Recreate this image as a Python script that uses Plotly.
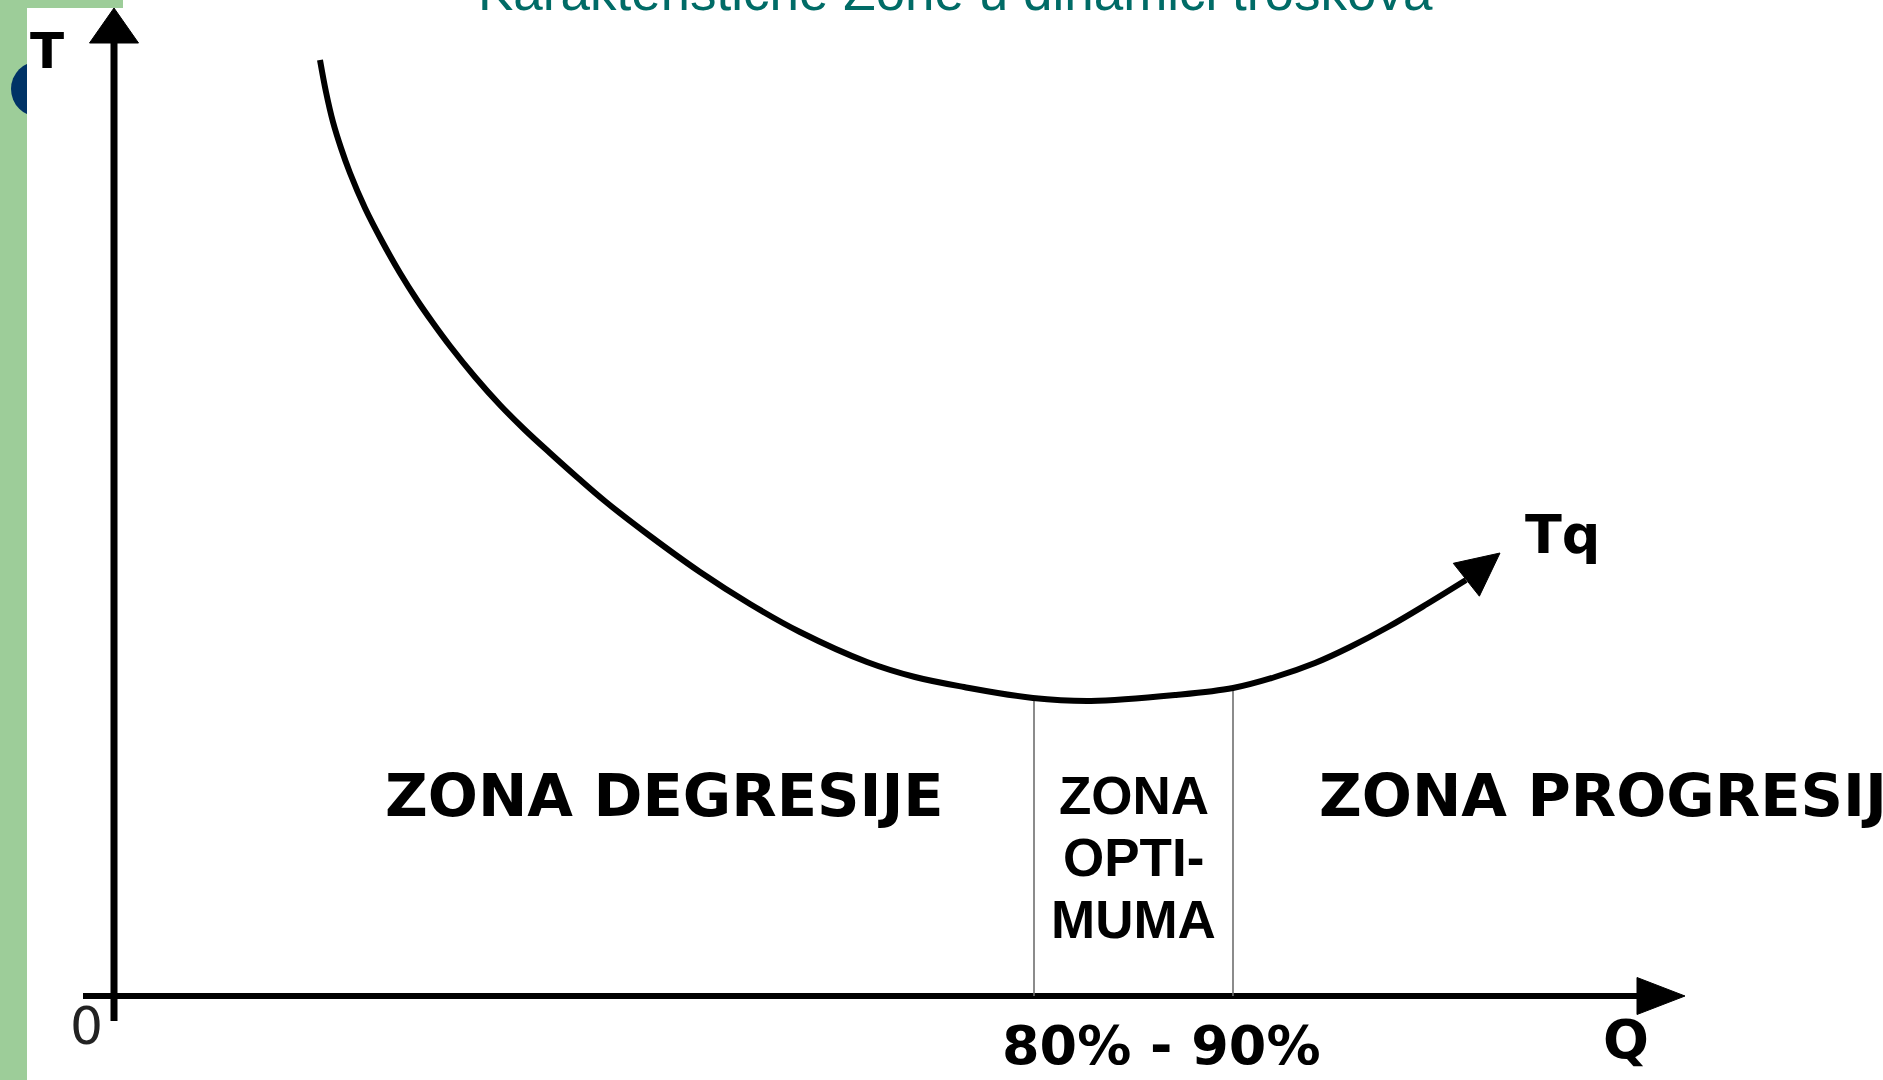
"""Characteristic cost zones: total cost curve Tq over output Q."""

import numpy as np
import plotly.graph_objects as go

# --- data (chart units: Q = 0 at the T axis, T = 0 at the Q axis) -------

TITLE = "Karakteristične Zone u dinamici troškova"

# total cost curve Tq; last point is the arrow tip
q_curve = [20.6, 21.2, 21.9, 22.7, 23.6, 25.1, 26.9, 28.6, 30.3, 31.9, 33.6, 36.1,
           38.6, 41.1, 43.6, 46.4, 49.2, 53.6, 58.6, 63.6, 68.6, 75.3, 80.1, 85.0,
           91.9, 97.7, 106.2, 111.9, 116.1, 120.1, 123.6, 127.4, 131.3, 135.2, 138.6]
t_curve = [93.6, 90.4, 87.4, 84.8, 82.3, 78.8, 75.3, 72.3, 69.6, 67.3, 65.0, 61.9,
           59.1, 56.6, 54.3, 51.8, 49.4, 46.0, 42.4, 39.2, 36.4, 33.4, 31.9, 30.9,
           29.8, 29.5, 30.1, 30.8, 31.9, 33.3, 34.9, 36.9, 39.2, 41.6, 44.3]

# bounds of the optimum zone on the Q axis and where they meet the curve
zone_bounds = [92.0, 111.9]
zone_tops = [29.8, 30.8]
zone_left = "ZONA DEGRESIJE"
zone_mid = ["ZONA", "OPTI-", "MUMA"]
zone_right = "ZONA PROGRESIJE"
zone_range_label = "80% - 90%"

axis_q_end = 157.1
axis_t_end = 98.8

# --- helpers --------------------------------------------------------------


def arrow_head(tip, tail, length, width):
    """Filled triangle pointing from tail towards tip."""
    tip = np.asarray(tip, dtype=float)
    d = tip - np.asarray(tail, dtype=float)
    d /= np.linalg.norm(d)
    n = np.array([-d[1], d[0]])
    base = tip - length * d
    pts = [tip, base + 0.5 * width * n, base - 0.5 * width * n, tip]
    return [p[0] for p in pts], [p[1] for p in pts]


def filled(xs, ys):
    return go.Scatter(x=xs, y=ys, mode="lines", fill="toself", fillcolor="black",
                      line={"color": "black", "width": 1}, hoverinfo="skip")


BOLD = {"family": "DejaVu Sans", "size": 59, "color": "black", "weight": "bold"}
ARIAL_BOLD = {"family": "Liberation Sans", "size": 53, "color": "black", "weight": "bold"}

fig = go.Figure()

# axes with arrow heads
fig.add_trace(go.Scatter(x=[0, 0], y=[-2.5, axis_t_end - 3.0], mode="lines",
                         line={"color": "black", "width": 7}, hoverinfo="skip"))
fig.add_trace(filled(*arrow_head((0, axis_t_end), (0, 0), 3.5, 4.9)))
fig.add_trace(go.Scatter(x=[-3.1, axis_q_end - 4.0], y=[0, 0], mode="lines",
                         line={"color": "black", "width": 6}, hoverinfo="skip"))
fig.add_trace(filled(*arrow_head((axis_q_end, 0), (0, 0), 4.8, 3.7)))

# zone boundaries
for qb, top in zip(zone_bounds, zone_tops):
    fig.add_trace(go.Scatter(x=[qb, qb], y=[0, top], mode="lines",
                             line={"color": "#6e6e6e", "width": 1.6}, hoverinfo="skip"))

# Tq curve + arrow
fig.add_trace(go.Scatter(x=q_curve[:-1], y=t_curve[:-1], mode="lines",
                         line={"color": "black", "width": 6, "shape": "spline", "smoothing": 1.0},
                         hoverinfo="skip"))
fig.add_trace(filled(*arrow_head((q_curve[-1], t_curve[-1]), (q_curve[-2], t_curve[-2]), 4.3, 4.2)))

# labels
ann = [
    dict(x=-6.7, y=94.55, text="T", font={**BOLD, "size": 50}),
    dict(x=-2.8, y=-2.95, text="0", font={"family": "DejaVu Sans", "size": 52, "color": "#222"}),
    dict(x=151.2, y=-4.3, text="Q", font={**BOLD, "size": 54}),
    dict(x=144.9, y=46.2, text="Tq", font={**BOLD, "size": 54}),
    dict(x=55.05, y=20.1, text=zone_left, font=BOLD),
    dict(x=120.3, y=20.1, text=zone_right, font=BOLD, xanchor="left"),
    dict(x=104.7, y=-4.9, text=zone_range_label, font={**BOLD, "size": 54}),
]
mid_x = sum(zone_bounds) / 2
for i, line in enumerate(zone_mid):
    ann.append(dict(x=mid_x, y=20.1 - 6.2 * i, text=line, font=ARIAL_BOLD))
for a in ann:
    fig.add_annotation(showarrow=False, xref="x", yref="y", **a)

# slide title, cut off at the top edge
fig.add_annotation(x=955 / 1883, y=1 + 9 / 1080, xref="paper", yref="paper",
                   text=TITLE, showarrow=False, yanchor="middle",
                   font={"family": "Liberation Sans", "size": 53, "color": "#006b66"})

# slide decoration: green strip and navy bullet
W, H = 1883, 1080
green = "#9dcd99"
fig.add_shape(type="rect", xref="paper", yref="paper", x0=0, x1=27 / W, y0=0, y1=1,
              fillcolor=green, line_width=0, layer="below")
fig.add_shape(type="rect", xref="paper", yref="paper", x0=0, x1=123 / W, y0=1 - 8 / H, y1=1,
              fillcolor=green, line_width=0, layer="below")
fig.add_shape(type="circle", xref="paper", yref="paper", x0=11 / W, x1=67 / W,
              y0=1 - 117 / H, y1=1 - 61 / H, fillcolor="#003366", line_width=0, layer="below")
fig.add_shape(type="rect", xref="paper", yref="paper", x0=27 / W, x1=130 / W,
              y0=1 - 130 / H, y1=1 - 8 / H, fillcolor="white", line_width=0, layer="below")

fig.update_layout(
    width=W, height=H,
    margin={"l": 0, "r": 0, "t": 0, "b": 0},
    paper_bgcolor="white", plot_bgcolor="white",
    showlegend=False,
    xaxis={"range": [-11.4, 176.9], "visible": False},
    yaxis={"range": [-8.4, 99.6], "visible": False},
)

fig.write_html("out.html", config={"displayModeBar": False},
               post_script="document.body.style.margin='0';document.body.style.overflow='hidden';")
